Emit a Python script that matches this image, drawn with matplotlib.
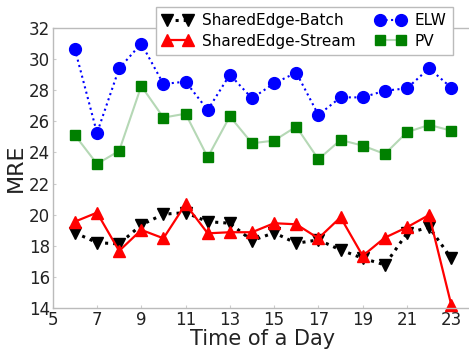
import matplotlib
matplotlib.use("Agg")
import matplotlib.pyplot as plt

hours = list(range(6, 24))
batch = [18.84, 18.2, 18.12, 19.34, 20.03, 20.13, 19.55, 19.45, 18.33, 18.84,
         18.16, 18.38, 17.73, 17.2, 16.77, 18.8, 19.19, 17.2]
stream = [19.55, 20.13, 17.67, 19.02, 18.48, 20.67, 18.8, 18.87, 18.87, 19.45,
          19.38, 18.48, 19.83, 17.35, 18.52, 19.19, 19.98, 14.2]
elw = [30.65, 25.25, 29.4, 31.0, 28.4, 28.55, 26.73, 29.0, 27.48, 28.44,
       29.13, 26.41, 27.54, 27.54, 27.97, 28.12, 29.41, 28.16]
pv = [25.12, 23.26, 24.1, 28.27, 26.24, 26.49, 23.69, 26.32, 24.59, 24.76,
      25.66, 23.56, 24.8, 24.44, 23.9, 25.3, 25.77, 25.4]
xticks = [5, 7, 9, 11, 13, 15, 17, 19, 21, 23]
yticks = [14, 16, 18, 20, 22, 24, 26, 28, 30, 32]

fig = plt.figure(figsize=(4.69, 3.49), dpi=100)
ax = fig.add_axes([0.1124, 0.1175, 0.897, 0.8023])

ax.plot(hours, batch, color="black", linestyle=":", linewidth=2.2,
        marker="v", markersize=8.5, label="SharedEdge-Batch")
ax.plot(hours, stream, color="red", linestyle="-", linewidth=1.6,
        marker="^", markersize=9, label="SharedEdge-Stream", clip_on=False)
ax.plot(hours, elw, color="blue", linestyle=":", linewidth=1.5,
        marker="o", markersize=8.5, label="ELW")
# pale connecting line with solid green square markers
ax.plot(hours, pv, color="#b5d8b5", linestyle="-", linewidth=1.5,
        marker="s", markersize=7.5, markerfacecolor="green",
        markeredgecolor="green", label="PV")

ax.set_xlim(5, 24)
ax.set_ylim(14, 32)
ax.set_xticks(xticks)
ax.set_yticks(yticks)
ax.tick_params(axis="both", labelsize=12, direction="in", length=2,
               pad=2, colors="#222222")
ax.tick_params(axis="both", color="#cccccc")
for sp in ax.spines.values():
    sp.set_color("#bbbbbb")
    sp.set_linewidth(1)

ax.set_xlabel("Time of a Day", fontsize=15, labelpad=0, color="#222222")
ax.set_ylabel("MRE", fontsize=16, labelpad=2, color="#222222")

leg = fig.legend(loc="center", bbox_to_anchor=(0.649, 0.911), ncol=2,
                 fontsize=11, numpoints=2, handlelength=2.0,
                 columnspacing=1.3, handletextpad=0.6, borderpad=0.4,
                 labelspacing=0.35, fancybox=False, framealpha=1,
                 edgecolor="#bbbbbb")

fig.savefig("out.png", dpi=100)
